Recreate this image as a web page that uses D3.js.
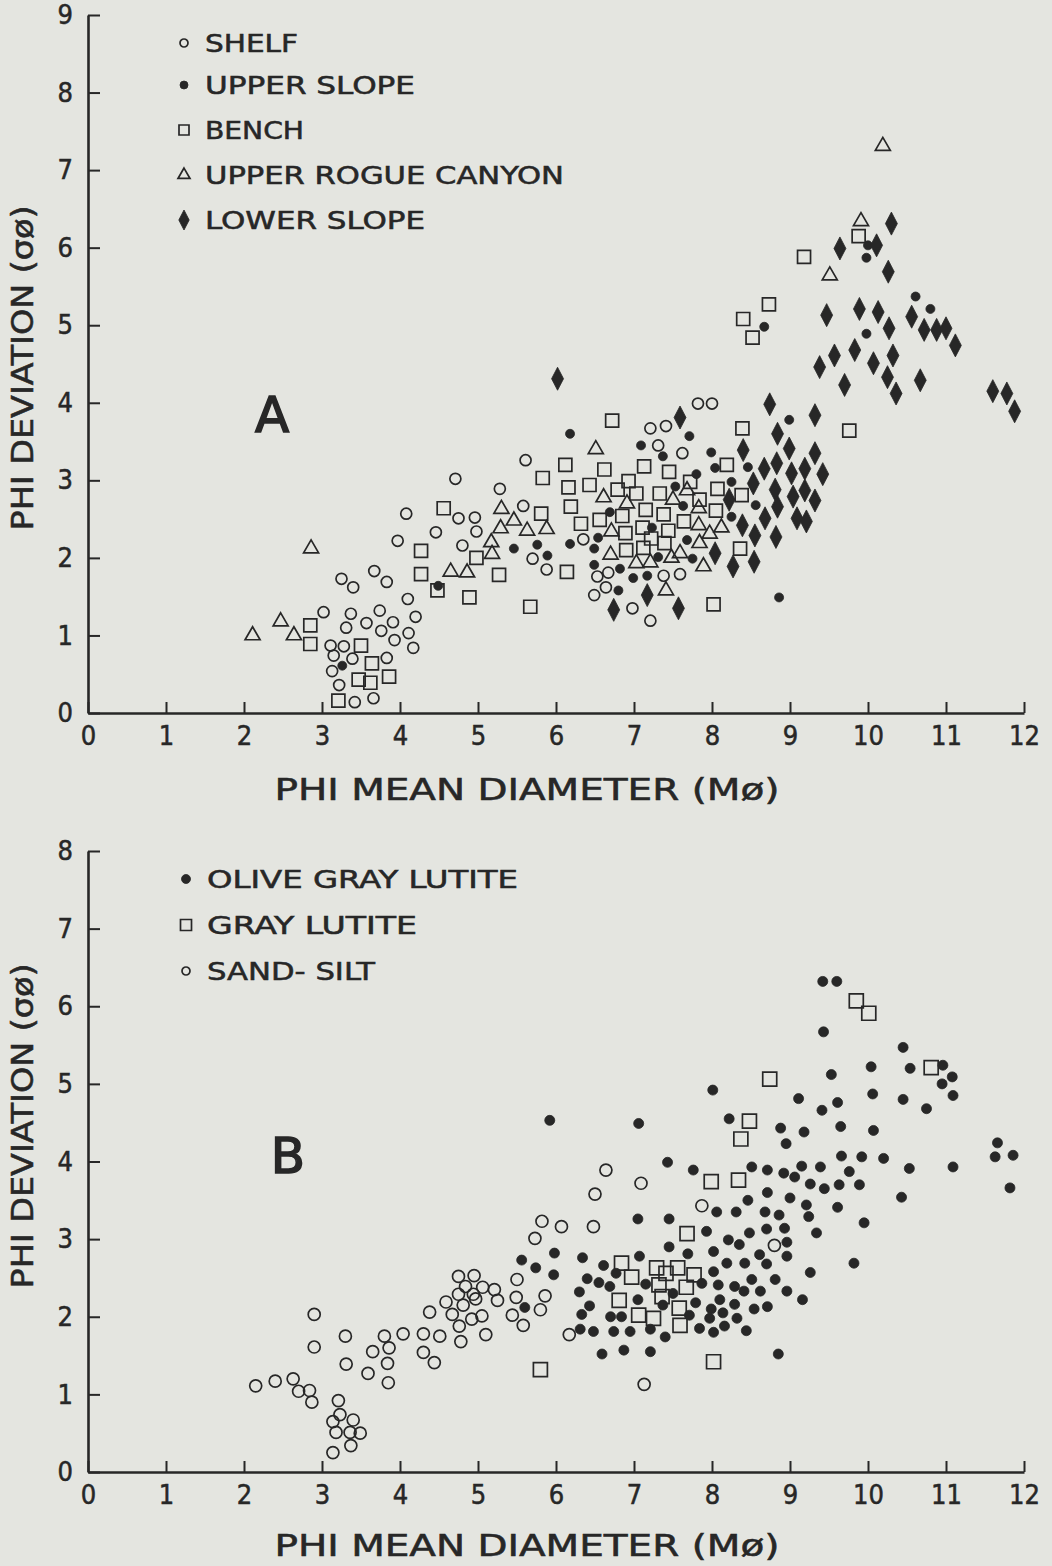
<!DOCTYPE html>
<html>
<head>
<meta charset="utf-8">
<script src="https://cdn.jsdelivr.net/npm/d3@7"></script>
<style>
  body { margin: 0; background: #e4e5e0; }
  svg { display: block; }
  text { font-family: "Liberation Sans Narrow", "DejaVu Sans Condensed", "DejaVu Sans", sans-serif; fill: #272727; stroke: #272727; stroke-width: 0.5px; }
</style>
</head>
<body>
<svg id="chart" width="1052" height="1566"></svg>
<script>
// tick values
var x_tick_values = [0, 1, 2, 3, 4, 5, 6, 7, 8, 9, 10, 11, 12];
var y_tick_values_a = [0, 1, 2, 3, 4, 5, 6, 7, 8, 9];
var y_tick_values_b = [0, 1, 2, 3, 4, 5, 6, 7, 8];

// ---- panel A : [mean diameter, deviation] ----
var shelf_a = [[3.02,1.30],[3.25,1.73],[3.40,1.62],[3.67,1.83],[3.83,1.69],[3.37,1.28],[3.31,1.10],[3.57,1.16],
  [3.74,1.32],[3.91,1.17],[3.76,1.06],[3.93,0.94],[4.11,1.03],[4.17,0.84],[4.20,1.24],[4.10,1.47],[3.11,0.87],
  [3.28,0.86],[3.15,0.74],[3.39,0.70],[3.13,0.54],[3.22,0.36],[3.42,0.14],[3.66,0.19],[3.83,0.71],[3.97,2.22],
  [4.08,2.57],[4.46,2.33],[4.71,3.02],[4.75,2.51],[4.80,2.16],[4.96,2.52],[4.98,2.34],[5.28,2.89],[5.61,3.26],
  [5.58,2.67],[5.70,1.99],[5.88,1.85],[7.82,3.99],[8.00,3.99],[7.21,3.67],[7.41,3.70],[7.31,3.45],[7.62,3.35],
  [6.35,2.24],[6.53,1.76],[6.67,1.81],[6.64,1.62],[6.49,1.52],[7.38,1.77],[7.59,1.79],[6.98,1.35],[7.21,1.19]];

var upper_slope_a = [[3.26,0.61],[4.49,1.64],[5.46,2.12],[5.76,2.17],[5.89,2.03],[6.18,3.60],[7.09,3.45],[7.71,3.57],
  [7.37,3.31],[7.99,3.36],[8.99,3.78],[8.46,3.17],[8.04,3.16],[7.80,3.08],[7.53,2.92],[7.63,2.67],[8.25,2.98],
  [8.25,2.53],[8.56,2.68],[6.69,2.59],[7.23,2.39],[6.54,2.26],[6.49,2.12],[6.18,2.18],[7.68,2.23],[7.75,1.99],
  [7.31,2.01],[6.82,1.86],[6.49,1.91],[6.99,1.74],[7.17,1.77],[6.80,1.58],[8.86,1.49],[8.67,4.98],[9.98,5.87],
  [10.00,6.03],[9.98,4.89],[10.61,5.37],[10.80,5.21]];

var bench_a = [[2.85,1.13],[2.85,0.89],[3.50,0.87],[3.64,0.64],[3.47,0.43],[3.62,0.39],[3.86,0.47],[3.21,0.16],
  [4.27,2.09],[4.27,1.79],[4.56,2.64],[4.48,1.58],[4.89,1.49],[4.98,2.00],[5.27,1.78],[5.67,1.37],[5.83,3.03],
  [5.81,2.57],[6.12,3.20],[6.62,3.14],[7.13,3.18],[7.45,3.11],[6.16,2.91],[6.43,2.94],[6.79,2.88],[6.93,2.99],
  [7.03,2.83],[7.33,2.83],[7.72,2.98],[8.19,3.20],[8.07,2.89],[8.38,2.81],[6.19,2.66],[6.56,2.49],[6.32,2.44],
  [6.85,2.54],[7.15,2.62],[7.38,2.56],[7.64,2.47],[7.84,2.75],[8.05,2.61],[6.89,2.32],[7.11,2.39],[7.44,2.35],
  [6.90,2.10],[7.12,2.13],[7.22,2.25],[7.39,2.19],[8.36,2.12],[6.14,1.82],[8.02,1.40],[6.72,3.77],[8.39,3.67],
  [9.76,3.64],[8.73,5.27],[8.40,5.08],[8.52,4.84],[9.18,5.88],[9.88,6.15]];

var upper_rogue_canyon_a = [[2.86,2.12],[2.11,1.00],[2.47,1.18],[2.64,1.00],[4.65,1.82],[4.86,1.81],[5.17,2.20],
  [5.18,2.05],[5.29,2.38],[5.30,2.63],[5.46,2.48],[5.63,2.35],[5.88,2.37],[6.51,3.40],[6.61,2.78],[6.91,2.70],
  [6.71,2.34],[6.70,2.04],[7.03,1.93],[7.21,1.94],[7.48,2.00],[7.59,2.06],[7.50,2.75],[7.68,2.87],[7.83,2.64],
  [7.83,2.42],[7.84,2.19],[7.97,2.31],[8.12,2.39],[7.89,1.89],[7.41,1.58],[9.51,5.64],[9.91,6.34],[10.19,7.31]];

var lower_slope_a = [[6.02,4.31],[7.59,3.81],[8.74,3.98],[9.32,3.84],[8.84,3.60],[8.99,3.41],[9.32,3.35],[8.40,3.39],
  [8.67,3.15],[8.83,3.22],[9.02,3.09],[9.19,3.15],[9.42,3.08],[8.53,2.96],[8.81,2.88],[9.04,2.79],[9.19,2.87],
  [9.32,2.74],[8.68,2.51],[8.84,2.66],[9.09,2.51],[9.21,2.47],[8.39,2.42],[8.55,2.29],[8.82,2.27],[8.04,2.06],
  [8.27,1.89],[8.54,1.95],[7.17,1.52],[6.74,1.33],[7.57,1.35],[8.22,2.75],[9.64,5.99],[10.11,6.03],[10.30,6.31],
  [10.26,5.69],[9.47,5.13],[9.89,5.21],[10.13,5.17],[10.27,4.96],[10.56,5.11],[10.72,4.94],[10.88,4.94],
  [11.00,4.96],[11.12,4.74],[9.57,4.61],[9.83,4.68],[9.38,4.46],[10.07,4.51],[10.32,4.61],[9.70,4.23],
  [10.25,4.33],[10.36,4.12],[10.67,4.29],[11.60,4.15],[11.78,4.12],[11.88,3.89]];

// ---- panel B ----
var sand_silt_b = [[2.15,1.11],[2.40,1.17],[2.63,1.20],[2.70,1.04],[2.84,1.05],[2.87,0.90],[2.90,2.03],[2.90,1.61],
  [3.21,0.92],[3.23,0.74],[3.14,0.65],[3.18,0.51],[3.40,0.67],[3.36,0.51],[3.49,0.50],[3.37,0.34],[3.14,0.25],
  [3.30,1.75],[3.31,1.39],[3.59,1.27],[3.65,1.55],[3.80,1.75],[3.86,1.60],[3.84,1.40],[3.85,1.15],[4.04,1.78],
  [4.30,1.78],[4.51,1.75],[4.30,1.54],[4.44,1.41],[4.38,2.06],[4.59,2.19],[4.67,2.03],[4.75,2.52],[4.75,2.29],
  [4.84,2.39],[4.81,2.15],[4.95,2.53],[4.94,2.29],[4.97,2.23],[5.06,2.38],[4.92,1.97],[4.76,1.88],[4.78,1.68],
  [5.05,2.01],[5.10,1.77],[5.21,2.35],[5.25,2.21],[5.44,2.02],[5.49,2.25],[5.50,2.48],[5.58,1.89],[5.73,3.01],
  [5.82,3.23],[6.07,3.16],[5.80,2.09],[5.86,2.27],[6.17,1.77],[6.48,3.16],[6.50,3.58],[6.64,3.89],[7.09,3.72],
  [7.87,3.43],[8.80,2.92],[7.13,1.13]];

var gray_lutite_b = [[5.80,1.32],[9.85,6.07],[10.01,5.91],[10.81,5.21],[8.74,5.06],[8.48,4.52],[8.37,4.29],
  [7.99,3.74],[8.34,3.76],[7.68,3.07],[6.84,2.69],[6.97,2.51],[7.29,2.63],[7.56,2.63],[7.41,2.56],[7.77,2.54],
  [7.32,2.41],[7.67,2.38],[6.81,2.21],[7.36,2.26],[7.58,2.11],[7.06,2.02],[7.25,1.98],[7.59,1.89],[8.02,1.42]];

var olive_gray_lutite_b = [[5.92,4.53],[5.56,2.73],[5.74,2.63],[5.98,2.82],[5.97,2.54],[5.60,2.12],[6.34,2.76],
  [6.40,2.49],[6.30,2.32],[6.43,2.14],[6.33,2.03],[6.31,1.84],[6.48,1.81],
  [9.42,6.32],[9.60,6.32],[9.43,5.67],[10.45,5.47],[10.04,5.22],[10.54,5.20],[10.96,5.24],[11.08,5.09],
  [10.95,5.00],[11.09,4.85],[9.53,5.12],[10.06,4.87],[10.45,4.80],[10.75,4.68],[9.11,4.81],[9.41,4.66],
  [9.61,4.76],[8.01,4.92],[7.06,4.49],[8.22,4.55],[8.88,4.43],[9.18,4.38],[8.95,4.23],[9.65,4.45],[10.07,4.40],
  [11.66,4.24],[11.63,4.06],[11.86,4.08],[11.82,3.66],[11.09,3.93],[10.53,3.91],[10.43,3.54],[10.20,4.04],
  [9.92,4.06],[9.66,4.07],[9.76,3.87],[9.89,3.70],[9.63,3.70],[9.61,3.41],[9.95,3.21],[9.39,3.93],[9.15,3.94],
  [8.92,3.85],[9.06,3.80],[8.71,3.89],[8.51,3.93],[9.26,3.71],[9.44,3.65],[9.00,3.53],[9.21,3.44],[9.24,3.29],
  [8.71,3.60],[8.46,3.50],[8.86,3.31],[8.68,3.35],[8.31,3.35],[8.06,3.35],[7.93,3.10],[8.48,3.08],[8.70,3.13],
  [8.93,3.14],[9.34,3.08],[7.43,3.99],[7.76,3.89],[7.05,3.26],[7.45,3.26],
  [7.45,2.90],[7.69,2.81],[8.02,2.84],[8.21,2.99],[8.35,2.93],[8.96,2.96],[8.96,2.78],[9.82,2.69],[9.26,2.57],
  [9.16,2.22],[8.96,2.33],[8.81,2.48],[8.70,2.68],[8.61,2.80],[8.42,2.69],[8.51,2.48],[8.62,2.33],[8.71,2.13],
  [8.54,2.10],[8.41,2.33],[8.29,2.39],[8.29,2.16],[8.19,2.69],[8.02,2.58],[8.08,2.41],[8.10,2.22],[7.99,2.10],
  [8.14,2.05],[8.32,1.98],[7.97,1.98],[8.16,1.88],[8.02,1.80],[7.84,1.85],[8.44,1.82],[7.87,2.43],[7.79,2.18],
  [7.71,2.02],[8.85,1.52],[7.07,2.78],[6.61,2.66],[6.77,2.56],[6.69,2.39],[6.55,2.44],[6.70,2.00],[6.84,2.00],
  [7.05,2.22],[7.15,2.42],[7.37,2.15],[7.50,2.30],[6.74,1.81],[6.95,1.81],[7.21,1.84],[7.40,1.74],[6.59,1.52],
  [6.87,1.57],[7.21,1.55]];

var ink = "#272727";
var svg = d3.select("#chart");
svg.append("rect").attr("width", 1052).attr("height", 1566).attr("fill", "#e4e5e0");

// marker shapes, s = size in px
function marker_path(kind, s) {
  if (kind == "circle" || kind == "dot") return d3.symbol(d3.symbolCircle, Math.PI * s * s)();
  if (kind == "square") return d3.symbol(d3.symbolSquare, s * s)();
  if (kind == "triangle") return d3.symbol(d3.symbolTriangle, s * s * Math.sqrt(3) / 4)();
  // lower slope diamonds are taller than wide
  return "M0," + (-s) + "L" + (s * 0.52) + ",0L0," + s + "L" + (-s * 0.52) + ",0Z";
}

function style_marker(sel, kind) {
  var filled = (kind == "dot" || kind == "diamond");
  sel.attr("fill", filled ? ink : "none")
    .attr("stroke", ink)
    .attr("stroke-width", filled ? 0.8 : 1.7);
}

function draw_panel(p) {
  var x = d3.scaleLinear().domain([0, 12]).range([88, 1024]);
  var y = d3.scaleLinear().domain([0, p.y_max]).range(p.y_range);
  var g = svg.append("g");

  var x_axis = d3.axisBottom(x).tickValues(x_tick_values).tickSizeInner(-11).tickSizeOuter(0).tickPadding(13);
  var y_axis = d3.axisLeft(y).tickValues(p.y_ticks).tickSizeInner(-12).tickSizeOuter(0).tickPadding(15);

  var gx = g.append("g").attr("transform", "translate(0," + p.y_range[0] + ")").call(x_axis);
  var gy = g.append("g").attr("transform", "translate(88,0)").call(y_axis);
  [gx, gy].forEach(function (a) {
    a.select(".domain").attr("stroke", ink).attr("stroke-width", 2.6);
    a.selectAll(".tick line").attr("stroke", ink).attr("stroke-width", 2);
    a.selectAll(".tick text").attr("fill", ink).style("font-size", "27px")
      .style("font-family", "'Liberation Sans Narrow','DejaVu Sans Condensed','DejaVu Sans',sans-serif");
  });

  // points
  p.layers.forEach(function (layer) {
    g.append("g").selectAll("path").data(layer.data).join("path")
      .attr("d", marker_path(layer.kind, layer.size))
      .attr("transform", function (d) { return "translate(" + x(d[0]) + "," + y(d[1]) + ")"; })
      .call(style_marker, layer.kind);
  });

  // legend
  p.legend.forEach(function (row) {
    g.append("path").attr("d", marker_path(row.kind, row.size))
      .attr("transform", "translate(" + p.legend_x + "," + row.y + ")")
      .call(style_marker, row.kind);
    g.append("text").attr("x", p.legend_x + 21).attr("y", row.y + 9)
      .attr("textLength", row.len).attr("lengthAdjust", "spacingAndGlyphs")
      .style("font-size", "25px").text(row.label);
  });

  // panel letter
  g.append("text").attr("x", p.letter_x).attr("y", p.letter_y).attr("text-anchor", "middle")
    .style("font-size", "50px").style("stroke-width", "1.6px")
    .style("font-family", "'DejaVu Sans',sans-serif").text(p.letter);

  // axis titles
  g.append("text").attr("x", 527).attr("y", p.x_title_y).attr("text-anchor", "middle")
    .attr("textLength", 505).attr("lengthAdjust", "spacingAndGlyphs")
    .style("font-size", "30px").text("PHI  MEAN  DIAMETER  (Mø)");
  g.append("text").attr("transform", "translate(33," + p.y_title_c + ") rotate(-90)")
    .attr("text-anchor", "middle").attr("textLength", 325).attr("lengthAdjust", "spacingAndGlyphs")
    .style("font-size", "30px").text("PHI  DEVIATION  (σø)");
}

draw_panel({
  y_max: 9, y_range: [713, 15], y_ticks: y_tick_values_a,
  x_title_y: 800, y_title_c: 368, letter: "A", letter_x: 272, letter_y: 432,
  layers: [
    { data: shelf_a, kind: "circle", size: 5.5 },
    { data: bench_a, kind: "square", size: 13 },
    { data: upper_rogue_canyon_a, kind: "triangle", size: 15 },
    { data: upper_slope_a, kind: "dot", size: 4.5 },
    { data: lower_slope_a, kind: "diamond", size: 11.5 }
  ],
  legend_x: 184,
  legend: [
    { label: "SHELF", kind: "circle", size: 4, y: 43, len: 93 },
    { label: "UPPER SLOPE", kind: "dot", size: 4, y: 85, len: 210 },
    { label: "BENCH", kind: "square", size: 10, y: 130, len: 99 },
    { label: "UPPER ROGUE CANYON", kind: "triangle", size: 12, y: 175, len: 359 },
    { label: "LOWER  SLOPE", kind: "diamond", size: 10, y: 220, len: 220 }
  ]
});

draw_panel({
  y_max: 8, y_range: [1472, 851], y_ticks: y_tick_values_b,
  x_title_y: 1556, y_title_c: 1126, letter: "B", letter_x: 288, letter_y: 1173,
  layers: [
    { data: sand_silt_b, kind: "circle", size: 6 },
    { data: gray_lutite_b, kind: "square", size: 14 },
    { data: olive_gray_lutite_b, kind: "dot", size: 5 }
  ],
  legend_x: 186,
  legend: [
    { label: "OLIVE GRAY LUTITE", kind: "dot", size: 4.5, y: 879, len: 311 },
    { label: "GRAY  LUTITE", kind: "square", size: 11, y: 925, len: 210 },
    { label: "SAND- SILT", kind: "circle", size: 4, y: 971, len: 168 }
  ]
});
</script>
</body>
</html>
